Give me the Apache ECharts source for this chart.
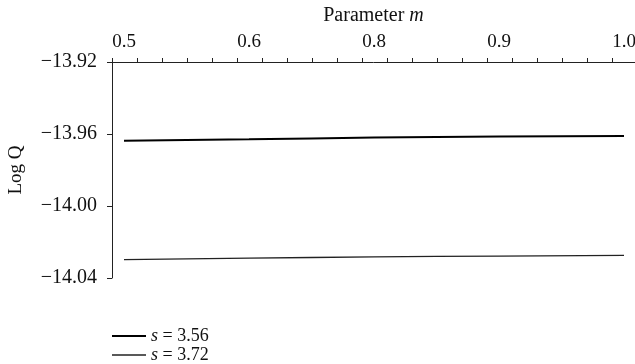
<!DOCTYPE html>
<html>
<head>
<meta charset="utf-8">
<script src="https://cdn.jsdelivr.net/npm/echarts@6/dist/echarts.min.js"></script>
<style>html,body{margin:0;padding:0;background:#fff}#c{width:635px;height:364px}</style>
</head>
<body>
<div id="c"></div>
<script>
var categories = ['0.5', '0.6', '0.8', '0.9', '1.0'];
var s356 = [-13.9637, -13.9629, -13.9620, -13.9614, -13.9611];
var s372 = [-14.0298, -14.0290, -14.0283, -14.0278, -14.0274];
var seriesNames = ['s = 3.56', 's = 3.72'];
var yTicks = [-14.04, -14.00, -13.96, -13.92];

var FONT = 'Liberation Serif';
var xMin = -0.096, xMax = 4.088, tickStep = 0.2;
var tickVals = [];
for (var k = 0; xMin + k * tickStep <= xMax + 1e-9; k++) tickVals.push(+(xMin + k * tickStep).toFixed(4));

function pairs(arr) { return arr.map(function (v, i) { return [i, v]; }); }

var chart = echarts.init(document.getElementById('c'), null, {renderer: 'canvas'});
chart.setOption({
  animation: false,
  backgroundColor: '#fff',
  grid: {left: 112, right: 0, top: 62, height: 216, containLabel: false, outerBoundsMode: 'none'},
  xAxis: {
    type: 'value', position: 'top', min: xMin, max: xMax,
    name: 'Parameter {i|m}', nameLocation: 'middle', nameGap: 36,
    nameTextStyle: {fontFamily: FONT, fontSize: 20, color: '#111',
      rich: {i: {fontFamily: FONT, fontStyle: 'italic', fontSize: 20, color: '#111'}}},
    axisLine: {show: true, onZero: false, lineStyle: {color: '#222', width: 1}},
    axisTick: {show: true, length: 4, inside: false, customValues: tickVals, lineStyle: {color: '#222'}},
    axisLabel: {customValues: [0, 1, 2, 3, 4], fontFamily: FONT, fontSize: 19, color: '#111', margin: 10,
      formatter: function (v) { return categories[Math.round(v)]; }},
    splitLine: {show: false}
  },
  yAxis: {
    type: 'value', min: -14.04, max: -13.92, interval: 0.04,
    name: 'Log Q', nameLocation: 'middle', nameGap: 86, nameRotate: 90,
    nameTextStyle: {fontFamily: FONT, fontSize: 19, color: '#111'},
    axisLine: {show: true, onZero: false, lineStyle: {color: '#222', width: 1}},
    axisTick: {show: true, length: 5, lineStyle: {color: '#222'}},
    axisLabel: {fontFamily: FONT, fontSize: 20, color: '#111', margin: 15,
      customValues: yTicks,
      formatter: function (v) { return v.toFixed(2).replace('-', '\u2212'); }},
    splitLine: {show: false}
  },
  legend: {
    orient: 'vertical', left: 112, top: 327, height: 80, itemGap: 1, itemWidth: 34, itemHeight: 16,
    padding: 0,
    textStyle: {fontFamily: FONT, fontSize: 18, color: '#111',
      rich: {i: {fontFamily: FONT, fontStyle: 'italic', fontSize: 18, color: '#111'}}},
    formatter: function (n) { return n.replace(/^s/, '{i|s}'); },
    data: [
      {name: seriesNames[0], icon: 'path://M0,0 L34,0 L34,2 L0,2 Z'},
      {name: seriesNames[1], icon: 'path://M0,0 L34,0 L34,1.3 L0,1.3 Z'}
    ]
  },
  series: [
    {name: seriesNames[0], type: 'line', data: pairs(s356), showSymbol: false, smooth: true,
      lineStyle: {color: '#000', width: 2}, itemStyle: {color: '#000'}},
    {name: seriesNames[1], type: 'line', data: pairs(s372), showSymbol: false, smooth: true,
      lineStyle: {color: '#222', width: 1.3}, itemStyle: {color: '#222'}}
  ]
});
</script>
</body>
</html>
